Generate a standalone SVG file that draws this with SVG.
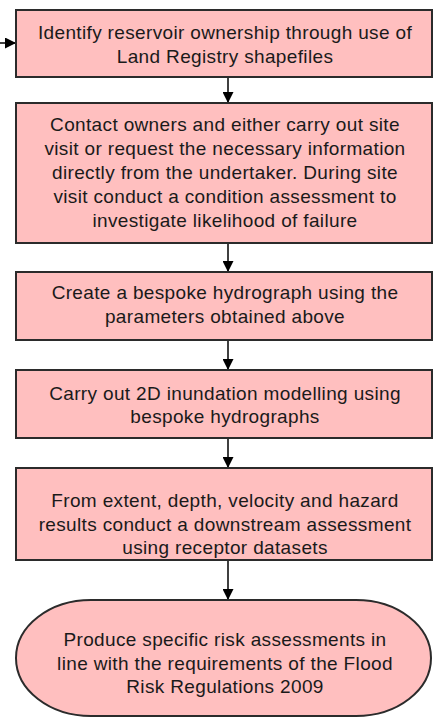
<svg xmlns="http://www.w3.org/2000/svg" width="433" height="718" viewBox="0 0 433 718">
<style>
.box{fill:#ffbfbf;stroke:#2b2b2b;stroke-width:2}
.t{font-family:"Liberation Sans",Arial,sans-serif;font-size:19px;letter-spacing:0.35px;fill:#1a1a1a;text-anchor:middle}
.c{stroke:#000;stroke-width:1.5;fill:none;marker-end:url(#ah)}
</style>
<defs>
<marker id="ah" markerWidth="11" markerHeight="11" refX="11" refY="5.5" orient="auto" markerUnits="userSpaceOnUse">
<path d="M0,0 L11,5.5 L0,11 Z" fill="#000"/>
</marker>
</defs>
<rect width="433" height="718" fill="#fff"/>
<g id="connectors">
<line class="c" x1="0" y1="43" x2="16" y2="43"/>
<line class="c" x1="228" y1="77" x2="228" y2="103"/>
<line class="c" x1="228" y1="243" x2="228" y2="272"/>
<line class="c" x1="228" y1="340" x2="228" y2="370"/>
<line class="c" x1="228" y1="438" x2="228" y2="468"/>
<line class="c" x1="228" y1="560" x2="228" y2="600"/>
</g>
<g id="n1">
<rect class="box" x="16" y="10" width="416" height="67"/>
<text class="t" x="225" y="39">Identify reservoir ownership through use of</text>
<text class="t" x="225" y="63">Land Registry shapefiles</text>
</g>
<g id="n2">
<rect class="box" x="16" y="103" width="416" height="140"/>
<text class="t" x="225" y="131">Contact owners and either carry out site</text>
<text class="t" x="225" y="155">visit or request the necessary information</text>
<text class="t" x="225" y="179">directly from the undertaker. During site</text>
<text class="t" x="225" y="203">visit conduct a condition assessment to</text>
<text class="t" x="225" y="227">investigate likelihood of failure</text>
</g>
<g id="n3">
<rect class="box" x="16" y="272" width="416" height="68"/>
<text class="t" x="225" y="299">Create a bespoke hydrograph using the</text>
<text class="t" x="225" y="323">parameters obtained above</text>
</g>
<g id="n4">
<rect class="box" x="16" y="370" width="416" height="68"/>
<text class="t" x="225" y="400">Carry out 2D inundation modelling using</text>
<text class="t" x="225" y="423">bespoke hydrographs</text>
</g>
<g id="n5">
<rect class="box" x="16" y="468" width="416" height="92"/>
<text class="t" x="225" y="507">From extent, depth, velocity and hazard</text>
<text class="t" x="225" y="531">results conduct a downstream assessment</text>
<text class="t" x="225" y="554">using receptor datasets</text>
</g>
<g id="n6">
<rect class="box" x="16" y="600" width="415" height="116" rx="75" ry="58"/>
<text class="t" x="225" y="646">Produce specific risk assessments in</text>
<text class="t" x="225" y="670">line with the requirements of the Flood</text>
<text class="t" x="225" y="693">Risk Regulations 2009</text>
</g>
</svg>
